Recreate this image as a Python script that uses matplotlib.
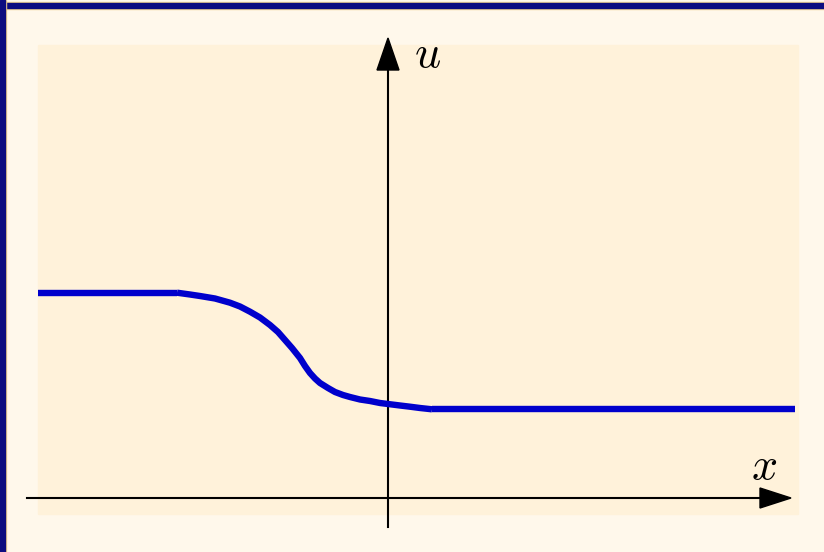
import matplotlib.pyplot as plt
from matplotlib.patches import Rectangle, Polygon

plt.rcParams['mathtext.fontset'] = 'cm'

# left state, transition profile, right state
x_left = [-3.50, -2.11]
u_left = [2.055, 2.055]
x_mid = [-2.11, -1.98, -1.88, -1.73, -1.58, -1.48, -1.38, -1.28, -1.18,
         -1.10, -1.03, -0.96, -0.88, -0.83, -0.78, -0.73, -0.68, -0.60,
         -0.53, -0.45, -0.38, -0.28, -0.18, -0.08, 0.00, 0.12, 0.22,
         0.32, 0.44]
u_mid = [2.053, 2.035, 2.02, 1.995, 1.953, 1.915, 1.863, 1.805, 1.73,
         1.66, 1.58, 1.50, 1.40, 1.32, 1.25, 1.195, 1.15, 1.10,
         1.06, 1.03, 1.01, 0.985, 0.97, 0.95, 0.94, 0.925, 0.913,
         0.90, 0.887]
x_right = [0.44, 4.07]
u_right = [0.887, 0.887]

outer_bg = '#fff8eb'
inner_bg = '#fff2da'
navy = '#0c0c80'
blue = '#0000cc'

fig = plt.figure(figsize=(8.24, 5.52), dpi=100)
fig.patch.set_facecolor(outer_bg)

# frame decoration along the top and left edges
for r in [Rectangle((0, 1 - 9 / 552), 1, 7 / 552, color='#f3d38f'),
          Rectangle((0, 1 - 8 / 552), 1, 5 / 552, color=navy),
          Rectangle((0, 0), 6 / 824, 1, color='#f3d38f'),
          Rectangle((0, 0), 5 / 824, 1, color=navy)]:
    r.set_transform(fig.transFigure)
    fig.patches.append(r)

ax = fig.add_axes([0, 0, 1, 1])
ax.set_xlim(-3.88, 4.36)
ax.set_ylim(-0.54, 4.98)
ax.axis('off')

ax.add_patch(Rectangle((-3.50, -0.16), 7.60, 4.69, color=inner_bg, zorder=0))

# coordinate axes with triangular heads
ax.plot([-3.61, 3.75], [0, 0], color='black', lw=1.5, zorder=2)
ax.add_patch(Polygon([[3.72, 0.10], [4.03, 0], [3.72, -0.10]],
                     closed=True, color='black', zorder=2))
ax.plot([0, 0], [-0.29, 4.30], color='black', lw=1.5, zorder=2)
ax.add_patch(Polygon([[-0.11, 4.28], [0, 4.60], [0.11, 4.28]],
                     closed=True, color='black', zorder=2))

ax.text(0.40, 4.44, '$u$', fontsize=33, ha='center', va='center')
ax.text(3.76, 0.31, '$x$', fontsize=33, ha='center', va='center')

for xs, us in [(x_left, u_left), (x_mid, u_mid), (x_right, u_right)]:
    ax.plot(xs, us, color=blue, lw=4.6, solid_capstyle='butt',
            solid_joinstyle='round', zorder=3)

fig.savefig('out.png', dpi=100, facecolor=outer_bg)
